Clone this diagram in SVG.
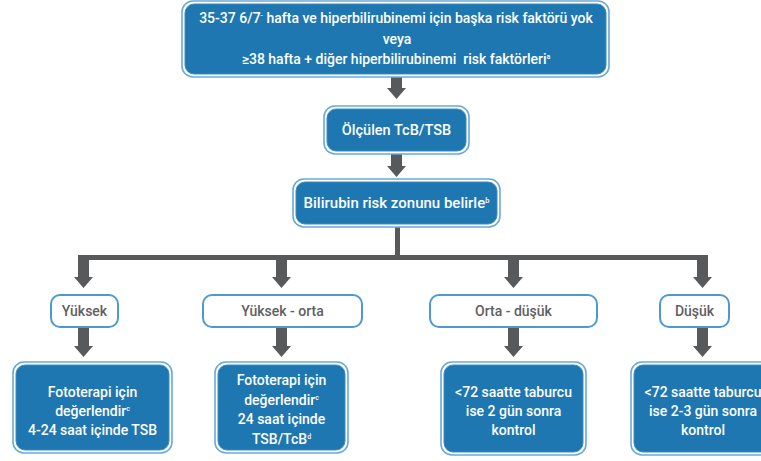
<svg xmlns="http://www.w3.org/2000/svg" width="761" height="461" viewBox="0 0 761 461">
<style>
.outer{fill:#ffffff;stroke:#6aa9d6;stroke-width:1.6}
.inner{fill:#1e77b1;stroke:#3d8cc2;stroke-width:1}
.lvl{fill:#ffffff;stroke:#4d9bcd;stroke-width:2}
.wt{font-family:Roboto,"Liberation Sans",sans-serif;font-weight:500;fill:#ffffff;text-anchor:middle}
.gt{font-family:Roboto,"Liberation Sans",sans-serif;font-weight:500;fill:#5f6062;text-anchor:middle;font-size:14px}
.ar{fill:#58595b}
</style>
<rect width="761" height="461" fill="#ffffff"/>
<g id="connectors">
<polygon class="ar" points="391,77 402,77 402,88 406,88 396.5,99 387,88 391,88"/>
<polygon class="ar" points="391,154 402,154 402,166 406,166 396.5,177 387,166 391,166"/>
<rect class="ar" x="395" y="227" width="5" height="31"/>
<rect class="ar" x="78" y="255" width="630" height="5"/>
<polygon class="ar" points="78,255 89,255 89,277 93,277 83.5,288 74,277 78,277"/>
<polygon class="ar" points="276,255 287,255 287,277 291,277 281.5,288 272,277 276,277"/>
<polygon class="ar" points="508,255 519,255 519,277 523,277 513.5,288 504,277 508,277"/>
<polygon class="ar" points="697,255 708,255 708,277 712,277 702.5,288 693,277 697,277"/>
<polygon class="ar" points="78,327 89,327 89,346 93,346 83.5,357 74,346 78,346"/>
<polygon class="ar" points="276,327 287,327 287,346 291,346 281.5,357 272,346 276,346"/>
<polygon class="ar" points="508,327 519,327 519,346 523,346 513.5,357 504,346 508,346"/>
<polygon class="ar" points="697,327 708,327 708,346 712,346 702.5,357 693,346 697,346"/>
</g>
<g id="n-start">
<rect class="outer" x="182" y="1" width="427" height="76" rx="11"/>
<rect class="inner" x="185" y="4" width="421" height="70" rx="9"/>
<text class="wt" font-size="14" x="396" y="23">35-37 6/7<tspan font-size="7" dy="-5">-</tspan><tspan dy="5"> hafta ve hiperbilirubinemi için başka risk faktörü yok</tspan></text>
<text class="wt" font-size="14" x="397" y="44">veya</text>
<text class="wt" font-size="14" x="396" y="64">≥38 hafta + diğer hiperbilirubinemi&#160; risk faktörleri<tspan font-size="7" dy="-5">a</tspan></text>
</g>
<g id="n-measure">
<rect class="outer" x="324" y="106" width="145" height="48" rx="11"/>
<rect class="inner" x="327" y="109" width="139" height="42" rx="9"/>
<text class="wt" font-size="14.5" x="396.5" y="135">Ölçülen TcB/TSB</text>
</g>
<g id="n-zone">
<rect class="outer" x="293" y="179" width="207" height="48" rx="11"/>
<rect class="inner" x="296" y="182" width="201" height="42" rx="9"/>
<text class="wt" font-size="15" x="396.5" y="208">Bilirubin risk zonunu belirle<tspan font-size="7.5" dy="-5">b</tspan></text>
</g>
<g id="n-high">
<rect class="lvl" x="51" y="295" width="67" height="32" rx="9"/>
<text class="gt" x="84.5" y="316">Yüksek</text>
</g>
<g id="n-highmid">
<rect class="lvl" x="203" y="295" width="159" height="32" rx="9"/>
<text class="gt" x="282.5" y="316">Yüksek - orta</text>
</g>
<g id="n-midlow">
<rect class="lvl" x="430" y="295" width="167" height="32" rx="9"/>
<text class="gt" x="513.5" y="316">Orta - düşük</text>
</g>
<g id="n-low">
<rect class="lvl" x="660" y="295" width="69" height="32" rx="9"/>
<text class="gt" x="694.5" y="316">Düşük</text>
</g>
<g id="n-r1">
<rect class="outer" x="13" y="362" width="159" height="91" rx="11"/>
<rect class="inner" x="16" y="365" width="153" height="85" rx="9"/>
<text class="wt" font-size="14" x="92.5" y="397">Fototerapi için</text>
<text class="wt" font-size="14" x="92.5" y="416">değerlendir<tspan font-size="7" dy="-5">c</tspan></text>
<text class="wt" font-size="14" x="92.5" y="435">4-24 saat içinde TSB</text>
</g>
<g id="n-r2">
<rect class="outer" x="215" y="362" width="133" height="91" rx="11"/>
<rect class="inner" x="218" y="365" width="127" height="85" rx="9"/>
<text class="wt" font-size="14" x="281.5" y="385">Fototerapi için</text>
<text class="wt" font-size="14" x="281.5" y="405">değerlendir<tspan font-size="7" dy="-5">c</tspan></text>
<text class="wt" font-size="14" x="281.5" y="424">24 saat içinde</text>
<text class="wt" font-size="14" x="281.5" y="444">TSB/TcB<tspan font-size="7" dy="-5">d</tspan></text>
</g>
<g id="n-r3">
<rect class="outer" x="441" y="362" width="145" height="93" rx="11"/>
<rect class="inner" x="444" y="365" width="139" height="87" rx="9"/>
<text class="wt" font-size="14" x="513.5" y="397">&lt;72 saatte taburcu</text>
<text class="wt" font-size="14" x="513.5" y="416">ise 2 gün sonra</text>
<text class="wt" font-size="14" x="513.5" y="435">kontrol</text>
</g>
<g id="n-r4">
<rect class="outer" x="631" y="362" width="145" height="93" rx="11"/>
<rect class="inner" x="634" y="365" width="139" height="87" rx="9"/>
<text class="wt" font-size="14" x="703" y="397">&lt;72 saatte taburcu</text>
<text class="wt" font-size="14" x="703" y="416">ise 2-3 gün sonra</text>
<text class="wt" font-size="14" x="703" y="435">kontrol</text>
</g>
</svg>
